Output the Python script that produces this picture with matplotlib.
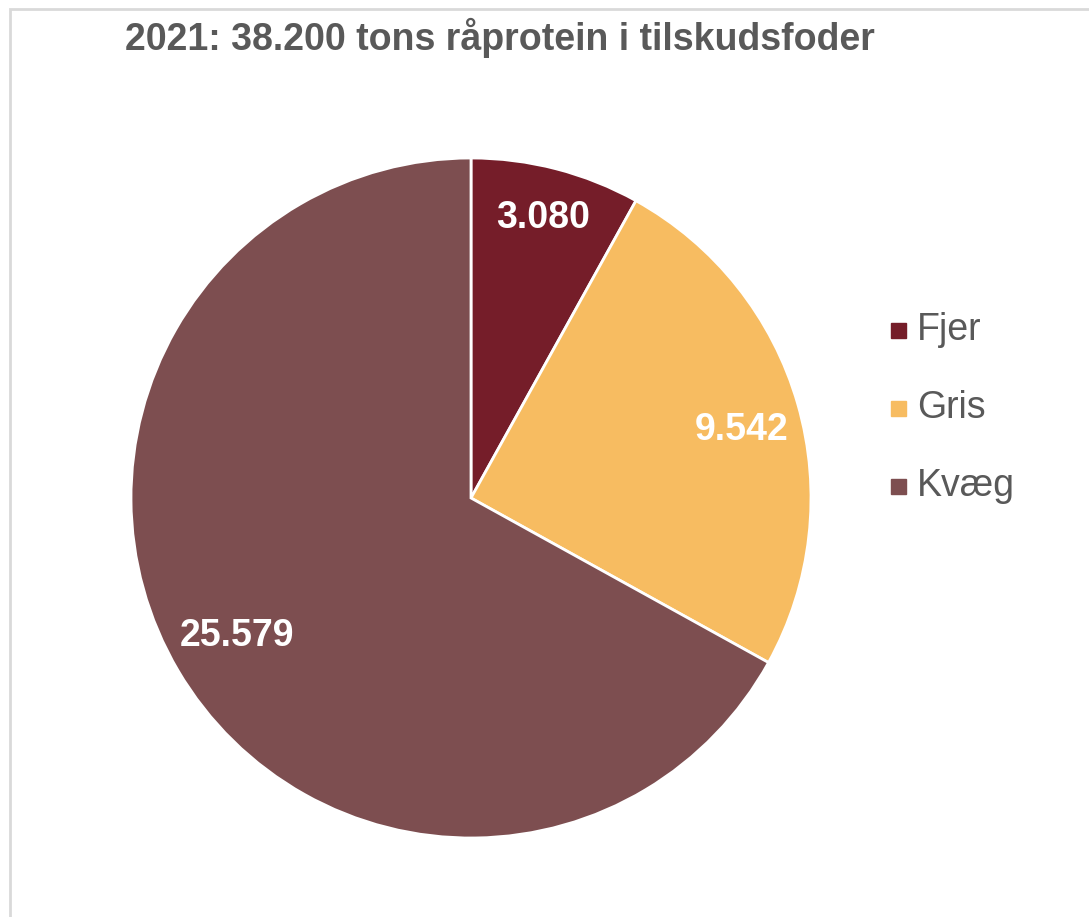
import matplotlib.pyplot as plt
import numpy as np

plt.rcParams['font.family'] = ['Liberation Sans', 'DejaVu Sans']

title = "2021: 38.200 tons råprotein i tilskudsfoder"
categories = ["Fjer", "Gris", "Kvæg"]
values = [3080, 9542, 25579]
colors = ["#751d29", "#f7bc61", "#7d4e50"]
label_dist = [0.85, 0.82, 0.80]


def fmt(v):
    return f"{v:,}".replace(",", ".")


fig = plt.figure(figsize=(10.89, 9.17), dpi=100)
W, H = 1089, 917

# light gray frame like the exported chart area
frame = plt.Rectangle((10 / W, -0.1), 1.2, (917 - 9) / H + 0.1, transform=fig.transFigure,
                      fill=False, edgecolor="#d9d9d9", linewidth=2)
fig.patches.append(frame)

cx, cy, r = 471, 498, 340
ax = fig.add_axes([(cx - r) / W, (H - cy - r) / H, 2 * r / W, 2 * r / H])
wedges, _ = ax.pie(values, colors=colors, startangle=90, counterclock=False,
                   wedgeprops=dict(edgecolor="white", linewidth=2))
ax.set_xlim(-1, 1)
ax.set_ylim(-1, 1)
ax.set_aspect("equal")
ax.axis("off")

for w, v, d in zip(wedges, values, label_dist):
    mid = np.deg2rad((w.theta1 + w.theta2) / 2 - (2 if v == 9542 else 0))
    ax.text(d * np.cos(mid), d * np.sin(mid), fmt(v), ha="center", va="center",
            color="white", fontsize=27, fontweight="bold")

fig.text(500 / W, 1 - 38 / H, title, ha="center", va="center",
         fontsize=27, fontweight="bold", color="#595959")

for i, (c, col) in enumerate(zip(categories, colors)):
    y = 1 - (330 + 78 * i) / H
    fig.patches.append(plt.Rectangle((891 / W, y - 8 / H), 15 / W, 15 / H,
                                     transform=fig.transFigure, color=col))
    fig.text(917 / W, y, c, ha="left", va="center", fontsize=27, color="#595959")

fig.savefig("out.png", dpi=100)
